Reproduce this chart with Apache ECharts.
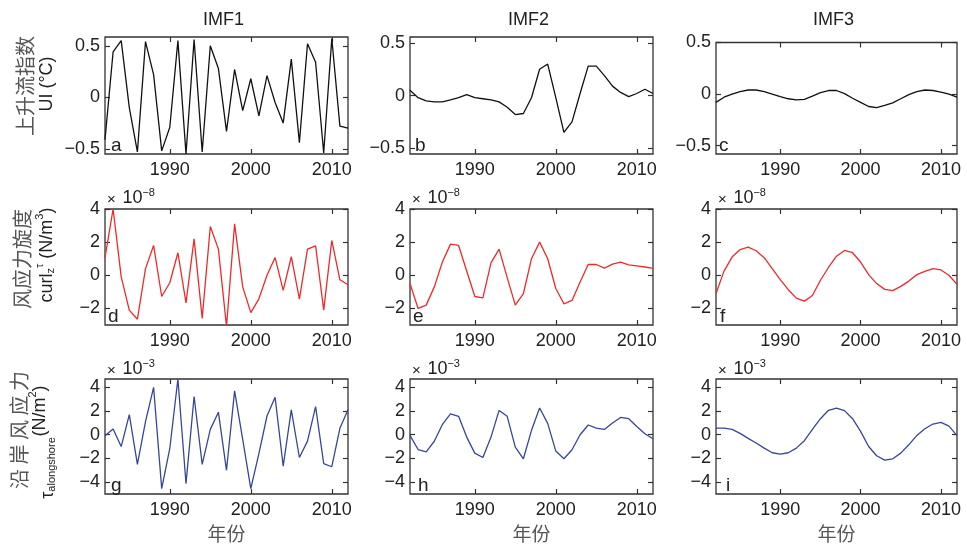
<!DOCTYPE html>
<html><head><meta charset="utf-8">
<script src="https://cdn.jsdelivr.net/npm/echarts@6/dist/echarts.min.js"></script>
<style>html,body{margin:0;padding:0;background:#fff}#c{width:967px;height:546px}</style>
</head><body><div id="c"></div>
<script>
// ---------------- data ----------------
const years = [1982,1983,1984,1985,1986,1987,1988,1989,1990,1991,1992,1993,1994,1995,1996,1997,1998,1999,2000,2001,2002,2003,2004,2005,2006,2007,2008,2009,2010,2011,2012];
const xTicks = [1990, 2000, 2010];
const uiTicks = [-0.5, 0, 0.5];
const curlTicks = [-2, 0, 2, 4];
const tauTicks = [-4, -2, 0, 2, 4];
const columnTitles = ['IMF1', 'IMF2', 'IMF3'];
const panelLetters = ['a','b','c','d','e','f','g','h','i'];
const rowLabelsCN = ['上升流指数', '风应力旋度', '沿 岸 风 应 力'];
const xAxisTitle = '年份';

// upwelling index UI (°C)
const uiIMF1 = [-0.41,0.44,0.55,-0.1,-0.53,0.54,0.22,-0.52,-0.29,0.55,-0.55,0.56,-0.53,0.5,0.28,-0.33,0.27,-0.13,0.18,-0.18,0.21,-0.05,-0.25,0.37,-0.44,0.52,0.34,-0.54,0.57,-0.28,-0.3];
const uiIMF2 = [0.05,-0.02,-0.05,-0.06,-0.06,-0.04,-0.02,0.01,-0.02,-0.03,-0.04,-0.06,-0.11,-0.18,-0.17,-0.02,0.25,0.3,-0.02,-0.35,-0.25,0.02,0.28,0.28,0.19,0.09,0.03,-0.01,0.02,0.06,0.02];
const uiIMF3 = [-0.08,-0.03,0.0,0.025,0.04,0.04,0.025,0.0,-0.025,-0.045,-0.055,-0.05,-0.02,0.015,0.035,0.035,0.005,-0.04,-0.08,-0.12,-0.13,-0.11,-0.085,-0.045,-0.005,0.025,0.04,0.035,0.02,0.0,-0.03];
// wind stress curl (×1e-8 N/m^3)
const curlIMF1 = [1.07,4.0,-0.1,-2.1,-2.65,0.4,1.8,-1.28,-0.45,1.36,-1.66,2.2,-2.6,2.94,1.58,-3.08,3.1,-0.7,-2.25,-1.42,0,1.07,-0.91,1.12,-1.44,1.58,1.78,-2.1,2.1,-0.27,-0.57];
const curlIMF2 = [-0.5,-2.0,-1.8,-0.7,0.8,1.88,1.8,0.26,-1.28,-1.36,0.75,1.58,-0.14,-1.8,-1.1,1.0,2.0,1.0,-0.8,-1.72,-1.52,-0.4,0.65,0.65,0.43,0.67,0.8,0.63,0.57,0.5,0.42];
const curlIMF3 = [-1.1,0.25,1.1,1.55,1.7,1.48,1.06,0.4,-0.26,-0.87,-1.38,-1.56,-1.22,-0.3,0.47,1.15,1.5,1.36,0.8,0.04,-0.5,-0.85,-0.93,-0.67,-0.35,0.04,0.24,0.4,0.32,0,-0.55];
// alongshore wind stress (×1e-3 N/m^2)
const tauIMF1 = [-0.08,0.48,-1.0,1.7,-2.5,1.1,4.0,-4.55,-1.16,4.7,-4.12,3.22,-2.5,0.45,1.9,-3.0,3.7,-0.4,-4.55,-1.6,1.58,3.16,-2.65,2.1,-1.92,-0.54,2.37,-2.43,-2.7,0.54,2.1];
const tauIMF2 = [-0.06,-1.25,-1.45,-0.55,0.87,1.75,1.55,-0.2,-1.55,-1.92,-0.2,2.05,1.55,-1.05,-2.03,0.37,2.25,0.96,-1.38,-2.03,-1.27,0,0.82,0.56,0.45,0.99,1.46,1.35,0.7,0.08,-0.34];
const tauIMF3 = [0.56,0.56,0.45,0.11,-0.31,-0.7,-1.13,-1.52,-1.63,-1.52,-1.13,-0.5,0.45,1.35,2.06,2.25,2.03,1.35,0.28,-0.99,-1.77,-2.14,-2.03,-1.55,-0.85,-0.06,0.5,0.9,1.04,0.73,-0.08];

// ---------------- layout / style ----------------
const LAT = "'Liberation Sans', Arial, sans-serif";
const CJK = "'Noto Sans CJK SC', sans-serif";
const colLeft = [105, 410, 716];
const colWidth = [243, 243, 241];
const rowTop = [37, 209, 379];
const rowHeight = [117, 116, 115];
const BLACK = '#111', RED = '#ee2a2a', BLUE = '#37469b';

const panels = [
  {vals: uiIMF1, color: BLACK, ticks: uiTicks, min: -0.55, max: 0.585},
  {vals: uiIMF2, color: BLACK, ticks: uiTicks, min: -0.555, max: 0.557},
  {vals: uiIMF3, color: BLACK, ticks: uiTicks, min: -0.58, max: 0.5, topAdj: 5.5},
  {vals: curlIMF1, color: RED, ticks: curlTicks, min: -3, max: 4},
  {vals: curlIMF2, color: RED, ticks: curlTicks, min: -3, max: 4},
  {vals: curlIMF3, color: RED, ticks: curlTicks, min: -3, max: 4},
  {vals: tauIMF1, color: BLUE, ticks: tauTicks, min: -5, max: 4.7},
  {vals: tauIMF2, color: BLUE, ticks: tauTicks, min: -5, max: 4.7},
  {vals: tauIMF3, color: BLUE, ticks: tauTicks, min: -5, max: 4.7}
];
const letterOffset = [6, 5, 3, 3, 3, 4, 6, 8, 10];

const fmtY = v => v < 0 ? '\u2212' + Math.abs(v) : String(v);
const fmtX = v => String(v);

const grid = [], xAxis = [], yAxis = [], series = [], graphic = [];
panels.forEach((p, i) => {
  const r = Math.floor(i / 3), c = i % 3;
  const adj = p.topAdj || 0;
  const top = rowTop[r] + adj, h = rowHeight[r] - adj;
  grid.push({left: colLeft[c], top: top, width: colWidth[c], height: h,
    show: true, borderColor: '#333', borderWidth: 1.3, backgroundColor: 'transparent',
    containLabel: false, outerBoundsMode: 'none'});
  const tickStyle = {show: true, inside: true, length: 5, lineStyle: {color: '#333', width: 1.2}};
  const lab = {fontSize: 18, color: '#222', fontFamily: LAT};
  const line = {show: false, onZero: false};
  xAxis.push({gridIndex: i, type: 'value', min: 1982, max: 2012, position: 'bottom',
    axisLine: line, splitLine: {show: false},
    axisTick: Object.assign({customValues: xTicks}, tickStyle),
    axisLabel: Object.assign({show: true, customValues: xTicks, margin: 7, formatter: fmtX}, lab)});
  xAxis.push({gridIndex: i, type: 'value', min: 1982, max: 2012, position: 'top',
    axisLine: line, splitLine: {show: false},
    axisTick: Object.assign({customValues: xTicks}, tickStyle),
    axisLabel: {show: false}});
  yAxis.push({gridIndex: i, type: 'value', min: p.min, max: p.max, position: 'left',
    axisLine: line, splitLine: {show: false},
    axisTick: Object.assign({customValues: p.ticks}, tickStyle),
    axisLabel: Object.assign({show: true, customValues: p.ticks, margin: 5, formatter: fmtY}, lab)});
  yAxis.push({gridIndex: i, type: 'value', min: p.min, max: p.max, position: 'right',
    axisLine: line, splitLine: {show: false},
    axisTick: Object.assign({customValues: p.ticks}, tickStyle),
    axisLabel: {show: false}});
  series.push({type: 'line', xAxisIndex: 2 * i, yAxisIndex: 2 * i, symbol: 'none',
    silent: true, clip: true, lineStyle: {color: p.color, width: 1.3},
    data: years.map((y, k) => [y, p.vals[k]])});
  // panel letter
  graphic.push({type: 'text', x: colLeft[c] + letterOffset[i], y: rowTop[r] + rowHeight[r] + 1,
    style: {text: panelLetters[i], font: '19px ' + LAT, fill: '#222',
      textAlign: 'left', align: 'left', textVerticalAlign: 'bottom', verticalAlign: 'bottom'}});
});

function txt(x, y, text, font, fill, rot, rich) {
  const st = {text: text, font: font, fill: fill, textAlign: 'center', align: 'center',
    textVerticalAlign: 'middle', verticalAlign: 'middle'};
  if (rich) st.rich = rich;
  return {type: 'text', x: x, y: y, rotation: rot || 0, style: st};
}
const R = Math.PI / 2;

// column titles and x-axis titles
columnTitles.forEach((t, c) => {
  const cx = colLeft[c] + colWidth[c] / 2;
  graphic.push(txt(cx - 3, 20, t, '18px ' + LAT, '#222'));
  graphic.push(txt(cx, 534, xAxisTitle, '19px ' + CJK, '#555'));
});

// scale multipliers
const mulRich = {
  x: {fontSize: 15, fontFamily: LAT, fill: '#222', lineHeight: 20, verticalAlign: 'bottom'},
  n: {fontSize: 18, fontFamily: LAT, fill: '#222', lineHeight: 20, verticalAlign: 'bottom'},
  s: {fontSize: 11, fontFamily: LAT, fill: '#222', lineHeight: 11, verticalAlign: 'top'}
};
[[1, '8', 197], [2, '3', 368]].forEach(([r, e, y]) => {
  colLeft.forEach(cl => {
    graphic.push({type: 'text', x: cl + 2, y: y, style: {
      text: '{x|\u00d7}  {n|10}{s|\u2212' + e + '}', rich: mulRich,
      textAlign: 'left', align: 'left', textVerticalAlign: 'middle', verticalAlign: 'middle'}});
  });
});

// row y-labels
graphic.push(txt(25, 86, rowLabelsCN[0], '20px ' + CJK, '#555', R));
graphic.push(txt(47, 84, 'UI (\u00b0C)', '18px ' + LAT, '#222', R));
graphic.push(txt(22, 259, rowLabelsCN[1], '20px ' + CJK, '#555', R));
const richLab = {
  m: {fontSize: 18, fontFamily: LAT, fill: '#222', lineHeight: 22, verticalAlign: 'bottom'},
  sub: {fontSize: 11, fontFamily: LAT, fill: '#222', lineHeight: 11, verticalAlign: 'bottom'},
  sup: {fontSize: 11, fontFamily: LAT, fill: '#222', lineHeight: 11, verticalAlign: 'top'}
};
graphic.push(txt(45, 255, '{m|curl}{sub|z}{sup|\u03c4}{m| (N/m}{sup|3}{m|)}', '18px ' + LAT, '#222', R, richLab));
graphic.push(txt(19, 430, rowLabelsCN[2], '20px ' + CJK, '#555', R));
graphic.push(txt(38, 411, '{m|(N/m}{sup|2}{m|)}', '18px ' + LAT, '#222', R, richLab));
graphic.push(txt(46, 468, '{m|\u03c4}{sub|alongshore}', '18px ' + LAT, '#222', R, richLab));

const chart = echarts.init(document.getElementById('c'));
chart.setOption({animation: false, backgroundColor: '#fff', grid, xAxis, yAxis, series, graphic});
</script></body></html>
